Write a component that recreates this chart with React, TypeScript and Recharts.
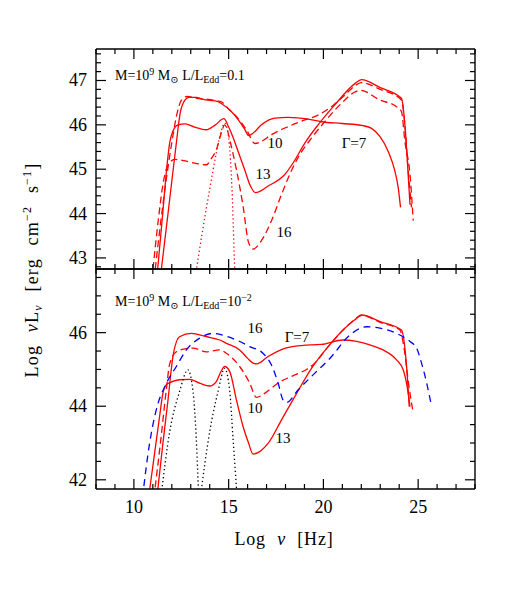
import { LineChart, Line, XAxis, YAxis } from "recharts";

type Pt = { x: number; y: number };
const pts = (a: number[][]): Pt[] => a.map(([x, y]) => ({ x, y }));

// top panel: L/LEdd = 0.1
const top7 = pts([
  [11.38, 42.5], [11.8, 44.0], [12.2, 45.45], [12.45, 46.28], [12.68, 46.55], [12.9, 46.62],
  [13.3, 46.62], [13.6, 46.58], [14.0, 46.55], [14.3, 46.54], [14.65, 46.47], [15.14, 46.3],
  [15.5, 46.12], [15.85, 45.9], [16.05, 45.76], [16.25, 45.8], [16.73, 46.0], [17.43, 46.15],
  [18.14, 46.17], [19.19, 46.13], [19.9, 46.07], [21.0, 46.03], [22.1, 45.98], [22.54, 45.92],
  [22.98, 45.74], [23.42, 45.4], [23.77, 44.96], [23.95, 44.58], [24.07, 44.14],
]);
const top10 = pts([
  [11.06, 42.5], [11.5, 44.1], [12.0, 45.6], [12.3, 46.3], [12.5, 46.55], [12.8, 46.64],
  [13.3, 46.6], [13.8, 46.58], [14.3, 46.55], [14.62, 46.52], [14.97, 46.37], [15.41, 46.19],
  [15.94, 45.89], [16.4, 45.58], [16.7, 45.62], [17.26, 45.78], [18.14, 45.96], [19.02, 46.11],
  [19.72, 46.22], [20.43, 46.41], [21.13, 46.67], [21.66, 46.88], [22.0, 46.95], [23.0, 46.8],
  [24.12, 46.56], [24.3, 46.0], [24.47, 45.0], [24.65, 44.14],
]);
const top13 = pts([
  [11.2, 42.5], [11.5, 43.9], [11.75, 45.1], [11.89, 45.6], [12.05, 45.85], [12.33, 46.0],
  [12.7, 46.02], [13.2, 45.95], [13.82, 45.89], [14.3, 46.0], [14.75, 46.14], [15.0, 45.95],
  [15.25, 45.7], [15.5, 45.4], [15.85, 44.98], [16.15, 44.62], [16.42, 44.47], [17.08, 44.62],
  [17.96, 44.88], [18.4, 45.14], [19.02, 45.59], [19.72, 46.0], [20.6, 46.45], [21.66, 46.93],
  [22.01, 47.02], [23.0, 46.84], [24.12, 46.6], [24.3, 46.0], [24.47, 44.9], [24.57, 44.2],
]);
const top16 = pts([
  [10.95, 42.5], [11.3, 43.9], [11.55, 44.7], [11.71, 45.0], [11.9, 45.15], [12.15, 45.22],
  [12.77, 45.18], [13.4, 45.12], [13.82, 45.1], [14.1, 45.25], [14.35, 45.44], [14.6, 45.8],
  [14.79, 46.0], [14.92, 45.9], [15.06, 45.66], [15.41, 44.99], [15.76, 44.17], [16.05, 43.35],
  [16.29, 43.2], [16.73, 43.39], [17.26, 43.84], [17.79, 44.43], [18.22, 44.88], [18.66, 45.26],
  [19.37, 45.7], [20.07, 46.07], [20.96, 46.49], [21.66, 46.74], [21.95, 46.78], [22.98, 46.56],
  [23.86, 46.41], [24.12, 46.3], [24.3, 45.63], [24.57, 44.88], [24.74, 43.84],
]);
const topDisk = pts([
  [13.25, 42.6], [13.6, 43.55], [14.0, 44.55], [14.35, 45.37], [14.6, 45.85], [14.79, 46.04],
  [14.95, 45.85], [15.06, 45.44], [15.2, 44.3], [15.32, 42.76], [15.35, 42.5],
]);

// bottom panel: L/LEdd = 1e-2
const bot7 = pts([
  [11.21, 41.5], [11.53, 42.99], [11.8, 44.17], [12.06, 45.35], [12.41, 45.89], [13.03, 45.98],
  [13.82, 45.89], [14.53, 45.8], [14.88, 45.71], [15.58, 45.53], [16.0, 45.3], [16.29, 45.17],
  [16.47, 45.15], [17.08, 45.35], [17.96, 45.57], [18.84, 45.65], [19.9, 45.68], [21.04, 45.8],
  [21.75, 45.76], [22.45, 45.67], [23.15, 45.53], [23.86, 45.26], [24.21, 44.99], [24.42, 44.53],
  [24.57, 43.99],
]);
const bot10 = pts([
  [11.05, 41.5], [11.4, 43.0], [11.7, 44.4], [11.89, 45.15], [12.24, 45.48], [12.7, 45.56],
  [13.12, 45.58], [13.82, 45.48], [14.53, 45.53], [14.88, 45.44], [15.58, 45.08], [16.11, 44.63],
  [16.47, 44.24], [16.9, 44.35], [17.61, 44.63], [18.49, 44.85], [19.11, 45.0], [19.5, 45.15],
  [20.25, 45.62], [21.13, 46.12], [21.66, 46.36], [22.01, 46.47], [23.0, 46.28], [24.04, 46.07],
  [24.25, 45.6], [24.5, 44.6], [24.74, 43.81],
]);
const bot13 = pts([
  [10.77, 41.5], [11.1, 42.75], [11.35, 43.7], [11.53, 44.35], [11.7, 44.58], [11.89, 44.64],
  [12.4, 44.72], [12.94, 44.73], [13.5, 44.62], [14.0, 44.55], [14.35, 44.67], [14.6, 44.95],
  [14.79, 45.08], [15.06, 44.94], [15.41, 44.17], [15.76, 43.45], [16.05, 43.0], [16.29, 42.7],
  [17.08, 42.99], [17.79, 43.63], [18.49, 44.26], [19.37, 45.03], [20.25, 45.62], [21.13, 46.12],
  [21.66, 46.35], [22.01, 46.48], [23.0, 46.3], [24.12, 46.07], [24.39, 45.08], [24.53, 43.99],
]);
const bot16 = pts([
  [10.45, 41.5], [10.83, 43.0], [11.18, 43.9], [11.71, 44.62], [12.24, 45.08], [12.77, 45.53],
  [13.47, 45.85], [14.17, 45.98], [14.88, 45.9], [15.5, 45.78], [16.11, 45.62], [16.81, 45.44],
  [17.26, 45.12], [17.61, 44.63], [17.87, 44.17], [18.05, 44.1], [18.66, 44.44], [19.55, 44.9],
  [20.43, 45.35], [21.3, 45.89], [22.28, 46.16], [22.98, 46.12], [23.86, 45.98], [24.57, 45.76],
  [24.92, 45.58], [25.18, 45.17], [25.45, 44.63], [25.71, 43.99],
]);
const botTorus = pts([
  [11.42, 41.5], [11.89, 43.31], [12.41, 44.4], [12.85, 44.99], [13.12, 44.4], [13.29, 43.13], [13.42, 41.5],
]);
const botDisk = pts([
  [13.5, 41.5], [14.0, 43.31], [14.44, 44.4], [14.79, 45.03], [15.06, 44.4], [15.23, 43.13], [15.45, 41.5],
]);

const X_DOMAIN: [number, number] = [8, 28];
const TOP_DOMAIN: [number, number] = [42.75, 47.71];
const BOT_DOMAIN: [number, number] = [41.75, 47.73];

const range = (a: number, b: number, s: number) => {
  const out: number[] = [];
  for (let v = a; v <= b + 1e-9; v += s) out.push(Math.round(v * 10) / 10);
  return out;
};
const xTicks = range(8, 28, 1);
const topYTicks = range(42.8, 47.6, 0.2);
const botYTicks = range(42, 47.5, 0.5);

const RED = "#ff0000";
const BLUE = "#0000ff";
const FONT = "'Liberation Serif', 'DejaVu Serif', serif";

type Side = "top" | "bottom" | "left" | "right";

function FrameTick(props: any) {
  const { x = 0, y = 0, payload, side, major, labels } = props as {
    x: number; y: number; payload: { value: number }; side: Side; major: number; labels: boolean;
  };
  const v = payload?.value ?? 0;
  const isMajor = Math.abs(v / major - Math.round(v / major)) < 1e-6;
  const len = isMajor ? 10 : 5;
  let x2 = x, y2 = y;
  if (side === "bottom") y2 = y - len;
  if (side === "top") y2 = y + len;
  if (side === "left") x2 = x + len;
  if (side === "right") x2 = x - len;
  return (
    <g>
      <line x1={x} y1={y} x2={x2} y2={y2} stroke="#000" strokeWidth={1.2} />
      {labels && isMajor && side === "bottom" && (
        <text x={x} y={y + 24} textAnchor="middle" fontSize={18} fontFamily={FONT} fill="#000">{v}</text>
      )}
      {labels && isMajor && side === "left" && (
        <text x={x - 9} y={y + 6} textAnchor="end" fontSize={18} fontFamily={FONT} fill="#000">{v}</text>
      )}
    </g>
  );
}

const axisLine = { stroke: "#000", strokeWidth: 1.4 };

function Panel({ topH, botH, domain, yTicks, yMajor, xLabels, children }: any) {
  return (
    <LineChart width={518} height={599} margin={{ top: 0, right: 0, bottom: 0, left: 0 }}
      style={{ position: "absolute", left: 0, top: 0 }}>
      <XAxis xAxisId="b" dataKey="x" type="number" domain={X_DOMAIN} ticks={xTicks} interval={0}
        orientation="bottom" height={botH} tickSize={0} tickMargin={0} tickLine={false}
        axisLine={axisLine} allowDataOverflow
        tick={(p: any) => <FrameTick {...p} side="bottom" major={5} labels={xLabels} />} />
      <XAxis xAxisId="t" dataKey="x" type="number" domain={X_DOMAIN} ticks={xTicks} interval={0}
        orientation="top" height={topH} tickSize={0} tickMargin={0} tickLine={false}
        axisLine={axisLine} allowDataOverflow
        tick={(p: any) => <FrameTick {...p} side="top" major={5} labels={false} />} />
      <YAxis yAxisId="l" type="number" domain={domain} ticks={yTicks} interval={0}
        orientation="left" width={96} tickSize={0} tickMargin={0} tickLine={false}
        axisLine={axisLine} allowDataOverflow
        tick={(p: any) => <FrameTick {...p} side="left" major={yMajor} labels />} />
      <YAxis yAxisId="r" type="number" domain={domain} ticks={yTicks} interval={0}
        orientation="right" width={43} tickSize={0} tickMargin={0} tickLine={false}
        axisLine={axisLine} allowDataOverflow
        tick={(p: any) => <FrameTick {...p} side="right" major={yMajor} labels={false} />} />
      {children}
    </LineChart>
  );
}

const line = (key: string, data: Pt[], color: string, dash?: string) => (
  <Line key={key} xAxisId="b" yAxisId="l" data={data} dataKey="y" type="monotone" stroke={color}
    strokeWidth={1.3} strokeDasharray={dash} dot={false} activeDot={false} isAnimationActive={false} />
);

export default function App() {
  return (
    <div style={{ position: "absolute", left: 0, top: 0, width: 518, height: 599, background: "#fff" }}>
      <Panel topH={49} botH={330} domain={TOP_DOMAIN} yTicks={topYTicks} yMajor={1} xLabels={false}>
        {line("t7", top7, RED)}
        {line("t10", top10, RED, "7 4")}
        {line("t13", top13, RED)}
        {line("t16", top16, RED, "7 4")}
        {line("tdisk", topDisk, RED, "1.3 2.7")}
      </Panel>
      <Panel topH={269} botH={110} domain={BOT_DOMAIN} yTicks={botYTicks} yMajor={2} xLabels>
        {line("b7", bot7, RED)}
        {line("b10", bot10, RED, "7 4")}
        {line("b13", bot13, RED)}
        {line("b16", bot16, BLUE, "7 5")}
        {line("btorus", botTorus, "#000", "1.3 2.7")}
        {line("bdisk", botDisk, "#000", "1.3 2.7")}
      </Panel>
      <svg width={518} height={599} style={{ position: "absolute", left: 0, top: 0, pointerEvents: "none" }}
        fontFamily={FONT} fill="#000">
        <text x={115} y={80} fontSize={14}>
          M=10<tspan fontSize={10} dy={-5}>9</tspan><tspan dy={5}> M</tspan>
          <tspan fontSize={10} dy={3}>⊙</tspan><tspan dy={-3}> L/L</tspan>
          <tspan fontSize={10} dy={3}>Edd</tspan><tspan dy={-3}>=0.1</tspan>
        </text>
        <text x={115} y={306} fontSize={14}>
          M=10<tspan fontSize={10} dy={-5}>9</tspan><tspan dy={5}> M</tspan>
          <tspan fontSize={10} dy={3}>⊙</tspan><tspan dy={-3}> L/L</tspan>
          <tspan fontSize={10} dy={3}>Edd</tspan><tspan dy={-3}>=10</tspan>
          <tspan fontSize={10} dy={-5}>−2</tspan>
        </text>
        <g fontSize={15} textAnchor="middle">
          <text x={275} y={148}>10</text>
          <text x={263} y={179}>13</text>
          <text x={284} y={237}>16</text>
          <text x={354} y={148}>Γ=7</text>
          <text x={255} y={333}>16</text>
          <text x={297} y={342}>Γ=7</text>
          <text x={255} y={413}>10</text>
          <text x={283} y={443}>13</text>
        </g>
        <text x={284} y={545} fontSize={18} textAnchor="middle" letterSpacing={0.8} wordSpacing={6}>
          Log <tspan fontStyle="italic">ν</tspan> [Hz]
        </text>
        <text transform="translate(38,270) rotate(-90)" fontSize={18} textAnchor="middle"
          letterSpacing={1.2} wordSpacing={7}>
          Log <tspan fontStyle="italic">ν</tspan>L<tspan fontSize={12} dy={4} fontStyle="italic">ν</tspan>
          <tspan dy={-4}> [erg cm</tspan><tspan fontSize={12} dy={-7}>−2</tspan>
          <tspan dy={7}> s</tspan><tspan fontSize={12} dy={-7}>−1</tspan><tspan dy={7}>]</tspan>
        </text>
      </svg>
    </div>
  );
}
